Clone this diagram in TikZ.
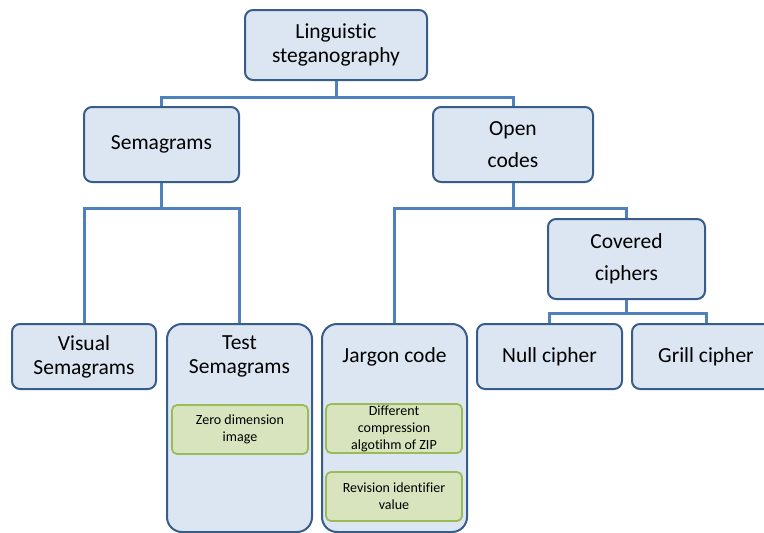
\documentclass[tikz,border=0pt]{standalone}
\usepackage{fontspec}
\setmainfont{Carlito}[Ligatures=NoCommon]
\usetikzlibrary{positioning}
\definecolor{boxfill}{HTML}{DCE6F2}
\definecolor{boxline}{HTML}{385D8A}
\definecolor{linkcol}{HTML}{4F81BD}
\definecolor{leaffill}{HTML}{D7E4BD}
\definecolor{leafline}{HTML}{9BBB59}
\tikzstyle{block} = [draw=boxline, fill=boxfill, line width=2pt,
    rounded corners=8pt, inner sep=0pt, align=center,
    font=\fontsize{21.5}{24}\selectfont]
\tikzstyle{wide} = [font=\fontsize{21.5}{32}\selectfont]
\tikzstyle{tall} = [block, rounded corners=15pt,
    minimum width=145pt, minimum height=208pt]
\tikzstyle{leaf} = [draw=leafline, fill=leaffill, line width=1.8pt,
    rounded corners=5pt, inner sep=0pt, align=center,
    minimum width=136pt, minimum height=49pt,
    font=\fontsize{14}{17}\selectfont]
\tikzstyle{title} = [align=center, inner sep=0pt,
    font=\fontsize{21.5}{24}\selectfont]
\tikzstyle{link} = [draw=linkcol, line width=3pt]

\begin{document}
\begin{tikzpicture}[x=1pt, y=-1pt]
    \clip (0,0) rectangle (764,533);
    \useasboundingbox (0,0) rectangle (764,533);
    % We start by placing the blocks
    \node [block, minimum width=182pt, minimum height=70pt] (ling) at (336,45)
        {Linguistic\\steganography};
    \node [block, minimum width=155pt, minimum height=75pt] (sema) at (161.5,144.5)
        {Semagrams};
    \node [block, wide, minimum width=160pt, minimum height=75pt] (open) at (513,144.5)
        {Open\\codes};
    \node [block, wide, minimum width=157pt, minimum height=80pt] (covered) at (626.5,259)
        {Covered\\ciphers};
    \node [block, minimum width=144pt, minimum height=65pt] (visual) at (84,356.5)
        {Visual\\Semagrams};
    \node [block, minimum width=145pt, minimum height=65pt] (null) at (549.5,356.5)
        {Null cipher};
    \node [block, minimum width=148pt, minimum height=65pt] (grill) at (706,356.5)
        {Grill cipher};

    % The tall blocks carry their title on top and the leaves below it
    \node [tall] (test) at (239.5,428) {};
    \node [title] (testtitle) at (239.5,356) {Test\\Semagrams};
    \node [leaf] (zero) at (240,429.5) {Zero dimension\\image};
    \node [tall] (jargon) at (394.5,428) {};
    \node [title] (jargontitle) at (394.5,357) {Jargon code};
    \node [leaf] (zip) at (394,428.5)
        {Different\\compression\\algotihm of ZIP};
    \node [leaf] (rev) at (394,496.5) {Revision identifier\\value};

    % Once the nodes are placed, connecting them is easy.
    \draw [link] (ling.south) -- ++(0,16) -| (sema.north);
    \draw [link] (ling.south) -- ++(0,16) -| (open.north);
    \draw [link] (sema.south) -- ++(0,25) -| (visual.north);
    \draw [link] (sema.south) -- ++(0,25) -| (test.north);
    \draw [link] (open.south) -- ++(0,25) -| (jargon.north);
    \draw [link] (open.south) -- ++(0,25) -| (covered.north);
    \draw [link] (covered.south) -- ++(0,13) -| (null.north);
    \draw [link] (covered.south) -- ++(0,13) -| (grill.north);
\end{tikzpicture}
\end{document}
